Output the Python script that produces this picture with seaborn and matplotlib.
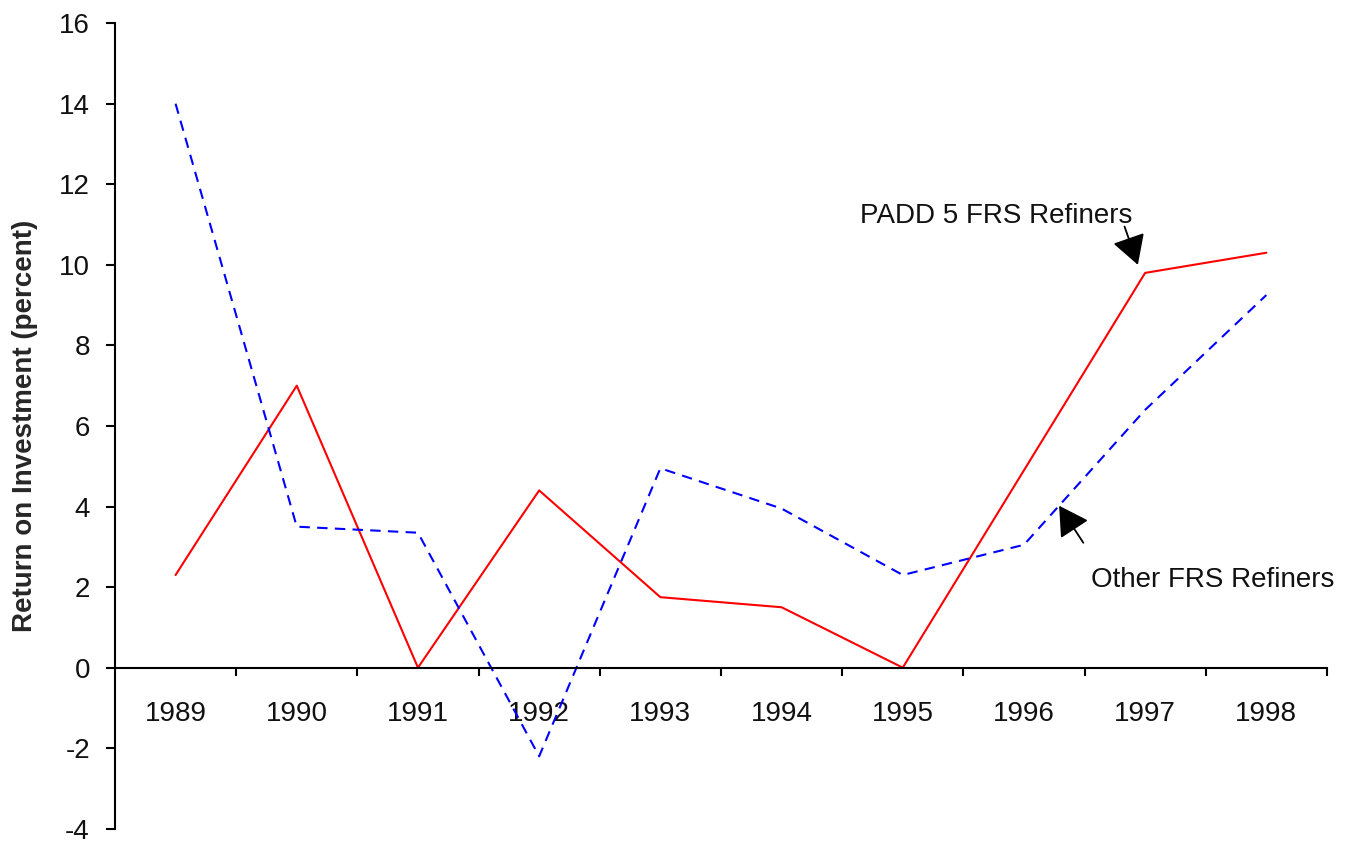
import numpy as np
import pandas as pd
import matplotlib
matplotlib.use("Agg")
import matplotlib.pyplot as plt
import seaborn as sns
from matplotlib.ticker import FixedLocator

# ---------------------------------------------------------------------------
# Data
# ---------------------------------------------------------------------------
years = [1989, 1990, 1991, 1992, 1993, 1994, 1995, 1996, 1997, 1998]
padd5_roi = [2.3, 7.0, 0.0, 4.4, 1.75, 1.5, 0.0, 4.9, 9.8, 10.3]
other_roi = [14.0, 3.5, 3.35, -2.2, 4.95, 3.95, 2.3, 3.05, 6.4, 9.25]
y_ticks = list(range(-4, 17, 2))

PADD_LABEL = "PADD 5 FRS Refiners"
OTHER_LABEL = "Other FRS Refiners"

sns.set_style("white")
plt.rcParams["font.family"] = ["Liberation Sans", "DejaVu Sans"]

df = pd.DataFrame({"year": years, "padd5": padd5_roi, "other": other_roi})

fig = plt.figure(figsize=(13.51, 8.41), dpi=100)
ax = fig.add_axes([0.0851, 0.0145, 0.8971, 0.958])

sns.lineplot(data=df, x="year", y="padd5", ax=ax, color="#FF0000",
             linewidth=1.5, legend=False)
sns.lineplot(data=df, x="year", y="other", ax=ax, color="#0000FF",
             linewidth=1.5, linestyle=(0, (5, 3.5)), legend=False)

ax.set_xlim(years[0] - 0.5, years[-1] + 0.5)
ax.set_ylim(y_ticks[0], y_ticks[-1])

# axes styling: y spine at left, x spine along zero
for side in ["top", "right"]:
    ax.spines[side].set_visible(False)
ax.spines["bottom"].set_position(("data", 0))
for side in ["left", "bottom"]:
    ax.spines[side].set_color("black")
    ax.spines[side].set_linewidth(1.5)

ax.set_yticks(y_ticks)
ax.set_yticklabels([str(t) for t in y_ticks])
ax.set_xticks(years)
ax.set_xticklabels([str(y) for y in years])
ax.xaxis.set_minor_locator(FixedLocator([y + 0.5 for y in years]))

ax.tick_params(axis="y", which="major", direction="out", length=6.5, width=1.5,
               color="black", labelsize=20, labelcolor="#111111", pad=11.5, left=True)
ax.tick_params(axis="x", which="major", length=0, labelsize=20,
               labelcolor="#111111", pad=24)
ax.tick_params(axis="x", which="minor", direction="out", length=6, width=1.5,
               color="black", bottom=True)

ax.set_xlabel("")
ax.set_ylabel("Return on Investment (percent)", fontsize=20, fontweight="bold")
ax.yaxis.set_label_coords(-0.0635, 0.5)

# series annotations (callout text + short pointer arrow, placed in data units)
arrow_style = dict(arrowstyle="-|>,head_length=0.7,head_width=0.4",
                   color="black", lw=1.3, mutation_scale=26,
                   shrinkA=0, shrinkB=0)
ax.text(1994.65, 11.2, PADD_LABEL, fontsize=20, color="#111111",
        ha="left", va="center")
ax.annotate("", xy=(1996.94, 10.0), xytext=(1996.83, 10.95),
            arrowprops=arrow_style)
ax.text(1996.55, 2.18, OTHER_LABEL, fontsize=20, color="#111111",
        ha="left", va="center")
ax.annotate("", xy=(1996.29, 4.02), xytext=(1996.49, 3.1),
            arrowprops=arrow_style)

fig.savefig("out.png", dpi=100)
